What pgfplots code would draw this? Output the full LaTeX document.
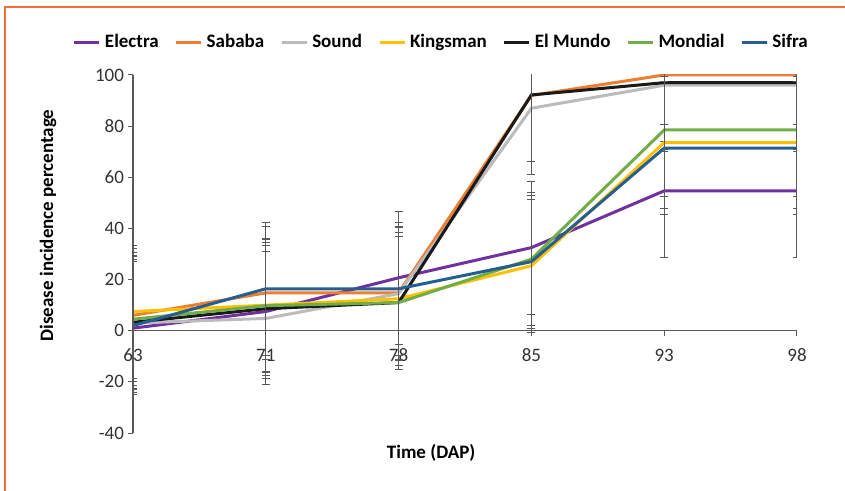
\documentclass[border=0pt]{standalone}
\usepackage{fontspec}
\setmainfont{Carlito}
\usepackage{pgfplots}
\usepackage{pgfplotstable}
\pgfplotsset{compat=1.18}

\definecolor{electra}{HTML}{7030A0}
\definecolor{sababa}{HTML}{ED7D31}
\definecolor{sound}{HTML}{BBBBBB}
\definecolor{kingsman}{HTML}{FFC000}
\definecolor{elmundo}{HTML}{1A1A1A}
\definecolor{mondial}{HTML}{70AD47}
\definecolor{sifra}{HTML}{255E91}
\definecolor{frameorange}{HTML}{F26D3D}
\definecolor{errgray}{HTML}{595959}

% days after planting: 63 71 78 85 93 98 (plotted at 0..5)
\pgfplotstableread{
x  el  sa   so  ki   em   mo   si   err
0  1   6    3   7.5  3.3  4.5  2    26
1  7.5 14.8 4.8 10   8.6  9.8  16.4 26
2  20.7 14.8 14.5 12.5 11 11   16.4 26
3  32.5 92  87  25.4 92.2 28   27   26
4  54.7 100 96  73.6 97   78.5 71.4 26
5  54.7 100 96  73.6 97   78.5 71.4 26
}\incidence

\begin{document}
\begin{tikzpicture}
\path[use as bounding box] (0pt,0pt) rectangle (422.5pt,-245.5pt);
\draw[frameorange, line width=1pt] (2.5pt,-245.5pt) -- (2.5pt,-3.5pt) -- (422.5pt,-3.5pt);
\begin{axis}[
  at={(66.5pt,-216.5pt)}, anchor=south west,
  scale only axis, width=332pt, height=179pt,
  xmin=0, xmax=5, ymin=-40, ymax=100,
  axis x line*=middle, axis y line*=left,
  hide obscured x ticks=false, hide obscured y ticks=false,
  xtick={0,1,2,3,4,5}, xticklabels={63,71,78,85,93,98},
  ytick={-40,-20,0,20,40,60,80,100},
  tick align=outside, major tick length=2.5pt,
  tick style={errgray, line width=0.5pt},
  axis line style={errgray, line width=0.6pt},
  tick label style={font=\fontsize{9.5}{11}\selectfont, text=black!80},
  /pgf/number format/assume math mode=true,
  xticklabel style={yshift=-3pt},
  yticklabel style={xshift=1.5pt},
  ylabel={Disease incidence percentage},
  xlabel={Time (DAP)},
  label style={font=\bfseries\fontsize{9.5}{11}\selectfont},
  ylabel style={at={(axis description cs:-0.128,0.58)}, anchor=center},
  xlabel style={at={(axis description cs:0.449,-0.056)}, anchor=center},
  legend columns=-1,
  legend style={at={(0.466,1.092)}, anchor=center, draw=none, fill=none,
    font=\bfseries\fontsize{9.5}{11}\selectfont,
    /tikz/every even column/.append style={column sep=6pt}},
  legend image code/.code={\draw[#1, line width=1.5pt] (0pt,0pt) -- (12.5pt,0pt);},
  every axis plot/.append style={line width=1.5pt, no markers},
  error bars/error bar style={errgray, line width=0.5pt},
  error bars/error mark options={rotate=90, mark size=2pt, errgray, line width=0.5pt},
]
\addplot[electra, error bars/.cd, y dir=both, y explicit] table[x=x, y=el, y error=err] {\incidence};
\addlegendentry{Electra}
\addplot[sababa, error bars/.cd, y dir=both, y explicit] table[x=x, y=sa, y error=err] {\incidence};
\addlegendentry{Sababa}
\addplot[sound, error bars/.cd, y dir=both, y explicit] table[x=x, y=so, y error=err] {\incidence};
\addlegendentry{Sound}
\addplot[kingsman, error bars/.cd, y dir=both, y explicit] table[x=x, y=ki, y error=err] {\incidence};
\addlegendentry{Kingsman}
\addplot[elmundo, error bars/.cd, y dir=both, y explicit] table[x=x, y=em, y error=err] {\incidence};
\addlegendentry{El Mundo}
\addplot[mondial, error bars/.cd, y dir=both, y explicit] table[x=x, y=mo, y error=err] {\incidence};
\addlegendentry{Mondial}
\addplot[sifra, error bars/.cd, y dir=both, y explicit] table[x=x, y=si, y error=err] {\incidence};
\addlegendentry{Sifra}
\end{axis}
\end{tikzpicture}
\end{document}
